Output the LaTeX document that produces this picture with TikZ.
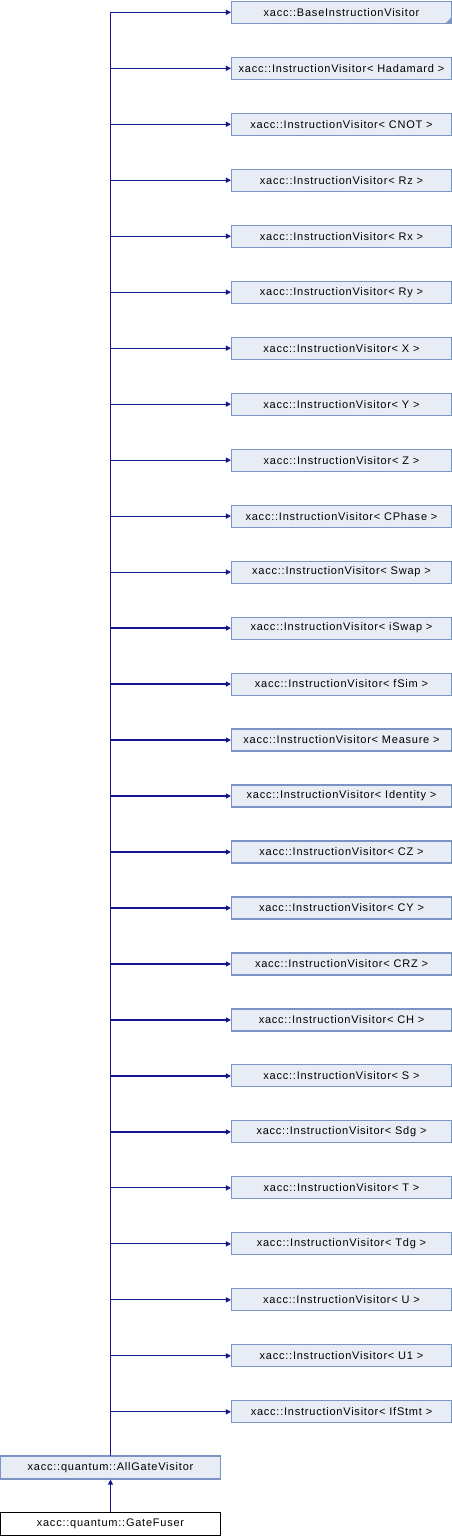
\documentclass[tikz,border=0pt]{standalone}
\usepackage{fontspec}
\setmainfont{Liberation Sans}[LetterSpace=7]
\usetikzlibrary{arrows.meta}
\definecolor{boxfill}{RGB}{232,236,245}
\definecolor{boxdraw}{RGB}{124,147,198}
\definecolor{edgecol}{RGB}{20,20,140}
\tikzset{
  cls/.style={draw=boxdraw, fill=boxfill, line width=1.1pt, minimum width=220pt, minimum height=22pt, inner sep=0pt, font=\fontsize{11}{13}\selectfont},
  mainbox/.style={draw=black, fill=white, line width=1.1pt, minimum width=220pt, minimum height=23pt, inner sep=0pt, font=\fontsize{11}{13}\selectfont},
  inh/.style={draw=edgecol, line width=1.2pt, -{Triangle[length=5pt,width=5pt]}},
}
\begin{document}
\begin{tikzpicture}[x=1pt,y=-1pt]
\useasboundingbox (0,0) rectangle (452,1536);
\foreach \i/\t in {0/{xacc::BaseInstructionVisitor},
  1/{xacc::InstructionVisitor< Hadamard >},
  2/{xacc::InstructionVisitor< CNOT >},
  3/{xacc::InstructionVisitor< Rz >},
  4/{xacc::InstructionVisitor< Rx >},
  5/{xacc::InstructionVisitor< Ry >},
  6/{xacc::InstructionVisitor< X >},
  7/{xacc::InstructionVisitor< Y >},
  8/{xacc::InstructionVisitor< Z >},
  9/{xacc::InstructionVisitor< CPhase >},
  10/{xacc::InstructionVisitor< Swap >},
  11/{xacc::InstructionVisitor< iSwap >},
  12/{xacc::InstructionVisitor< fSim >},
  13/{xacc::InstructionVisitor< Measure >},
  14/{xacc::InstructionVisitor< Identity >},
  15/{xacc::InstructionVisitor< CZ >},
  16/{xacc::InstructionVisitor< CY >},
  17/{xacc::InstructionVisitor< CRZ >},
  18/{xacc::InstructionVisitor< CH >},
  19/{xacc::InstructionVisitor< S >},
  20/{xacc::InstructionVisitor< Sdg >},
  21/{xacc::InstructionVisitor< T >},
  22/{xacc::InstructionVisitor< Tdg >},
  23/{xacc::InstructionVisitor< U >},
  24/{xacc::InstructionVisitor< U1 >},
  25/{xacc::InstructionVisitor< IfStmt >}}{
  \node[cls] (n\i) at (341.5, 12.3+55.98*\i) {\t};
}
\fill[boxdraw] (n0.south east) -- ++(-7,0) -- ++(7,-7) -- cycle;
\node[cls, minimum height=23pt] (all) at (110.5,1467.5) {xacc::quantum::AllGateVisitor};
\node[mainbox] (gf) at (110.5,1523.7) {xacc::quantum::GateFuser};
\foreach \i in {0,...,25}{
  \draw[inh] (all.north) |- (n\i.west);
}
\draw[inh] (gf.north) -- (all.south);
\end{tikzpicture}
\end{document}
